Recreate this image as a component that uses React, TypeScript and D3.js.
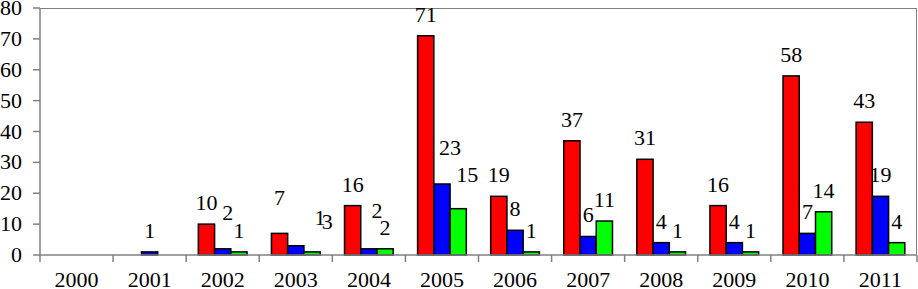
import React from "react";
import * as d3 from "d3";

const years = ["2000","2001","2002","2003","2004","2005","2006","2007","2008","2009","2010","2011"];
const seriesNames = ["red", "blue", "green"];
const redValues = [0, 0, 10, 7, 16, 71, 19, 37, 31, 16, 58, 43];
const blueValues = [0, 1, 2, 3, 2, 23, 8, 6, 4, 4, 7, 19];
const greenValues = [0, 0, 1, 1, 2, 15, 1, 11, 1, 1, 14, 4];
const yTicks = [0, 10, 20, 30, 40, 50, 60, 70, 80];

// layout: manual label nudges (dx, dy) to mimic the original label placement
const labelNudges: Record<string, [number, number]> = {
  "2002-1": [5, -15],
  "2003-0": [0, -14],
  "2003-1": [31.5, -2.5],
  "2003-2": [8, -13],
  "2004-1": [8, -17],
  "2005-1": [8, -15],
  "2005-2": [9, -13],
};

const W = 918, H = 289;
const left = 40, right = 917, top = 8, bottom = 255;
const colors = ["#FF0000", "#0000FF", "#00FF00"];
const textStyle: React.CSSProperties = { fontFamily: "Liberation Serif", fontSize: "22px" };

export default function App() {
  const x = d3.scaleBand<string>().domain(years).range([left, right]).padding(0);
  const sub = d3.scaleBand<string>().domain(seriesNames).range([0, x.bandwidth()]).paddingInner(0).paddingOuter(0.75);
  const y = d3.scaleLinear().domain([0, 80]).range([bottom, top]);
  const all = [redValues, blueValues, greenValues];

  const bars: React.ReactNode[] = [];
  const labels: React.ReactNode[] = [];
  years.forEach((yr, i) => {
    all.forEach((vals, s) => {
      const v = vals[i];
      if (!v) return;
      const bx = (x(yr) as number) + (sub(seriesNames[s]) as number);
      const bw = sub.bandwidth();
      bars.push(
        <rect key={`b${yr}-${s}`} x={bx} y={y(v)} width={bw} height={y(0) - y(v)}
          fill={colors[s]} stroke="#000" strokeWidth={1.5} />
      );
      const [dx, dy] = labelNudges[`${yr}-${s}`] || [0, 0];
      labels.push(
        <text key={`l${yr}-${s}`} x={bx + bw / 2 + dx} y={y(v) - 14 + dy} textAnchor="middle"
          style={textStyle} fill="#000">{v}</text>
      );
    });
  });

  return (
    <div style={{ position: "absolute", left: 0, top: 0 }}>
      <svg width={W} height={H} style={{ display: "block", background: "#fff" }}>
        <rect x={0} y={0} width={W} height={H} fill="#fff" />
        <line x1={left} x2={right} y1={top + 0.5} y2={top + 0.5} stroke="#808080" strokeWidth={1} />
        <line x1={right - 0.5} x2={right - 0.5} y1={top} y2={bottom} stroke="#808080" strokeWidth={1} />
        {bars}
        <line x1={left} x2={left} y1={top} y2={bottom} stroke="#808080" strokeWidth={1.5} />
        {yTicks.map(t => (
          <g key={`yt${t}`}>
            <line x1={left - 7} x2={left} y1={y(t)} y2={y(t)} stroke="#808080" strokeWidth={1.5} />
            <text x={22} y={y(t) + 7} textAnchor="end" style={textStyle} fill="#000">{t}</text>
          </g>
        ))}
        <line x1={left} x2={right} y1={bottom} y2={bottom} stroke="#808080" strokeWidth={1.5} />
        {years.map((yr) => (
          <g key={`xt${yr}`}>
            <line x1={(x(yr) as number)} x2={(x(yr) as number)} y1={bottom} y2={bottom + 7} stroke="#808080" strokeWidth={1.5} />
            <text x={(x(yr) as number) + x.bandwidth() / 2} y={287} textAnchor="middle" style={textStyle} fill="#000">{yr}</text>
          </g>
        ))}
        <line x1={right} x2={right} y1={bottom} y2={bottom + 7} stroke="#808080" strokeWidth={1.5} />
        {labels}
      </svg>
    </div>
  );
}
